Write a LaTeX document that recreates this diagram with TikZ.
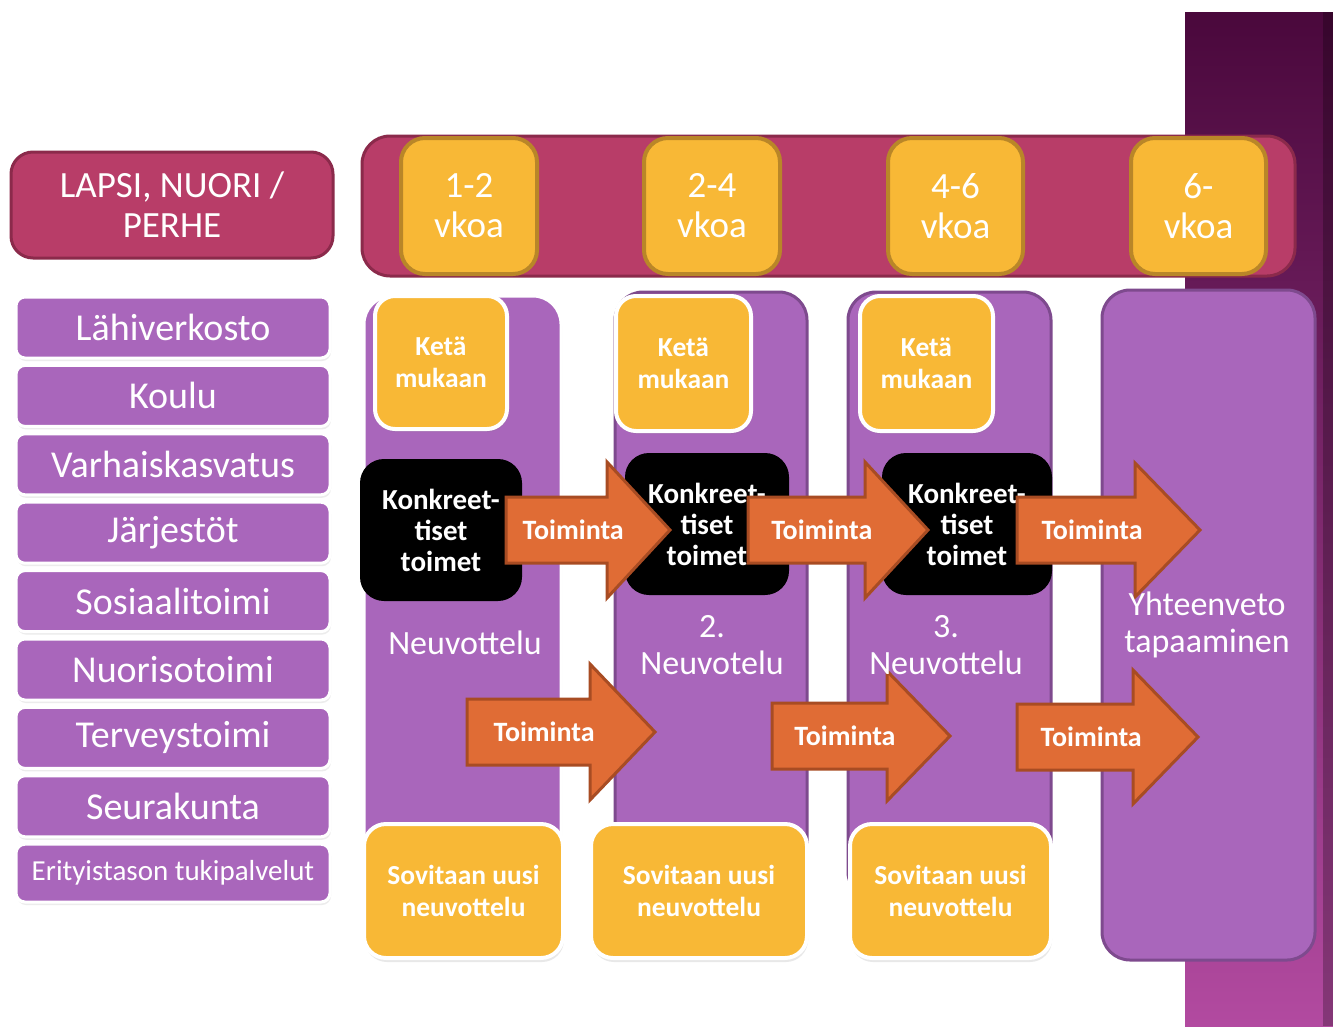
\documentclass[tikz,border=0pt]{standalone}
\usepackage{fontspec}
\setmainfont{Carlito}
\usetikzlibrary{shadows}
\definecolor{crim}{HTML}{B83D68}
\definecolor{crimd}{HTML}{8B2A4B}
\definecolor{yel}{HTML}{F8B836}
\definecolor{yeld}{HTML}{B98628}
\definecolor{purp}{HTML}{A966BB}
\definecolor{purpd}{HTML}{7E4A8E}
\definecolor{orng}{HTML}{E06C35}
\definecolor{orngd}{HTML}{A84C23}
\definecolor{stript}{HTML}{4A083C}
\definecolor{stripm}{HTML}{6A1D5E}
\definecolor{stripb}{HTML}{B24AA0}
\tikzset{
  base/.style={inner sep=0pt, outer sep=0pt, align=center, text=white},
  crimbox/.style={base, fill=crim, draw=crimd, line width=3pt, rounded corners=22pt, font=\fontsize{37}{40}\selectfont},
  barbox/.style={base, fill=crim, draw=crimd, line width=3pt, rounded corners=28pt},
  weekbox/.style={base, fill=yel, draw=yeld, line width=4pt, rounded corners=24pt, font=\fontsize{37}{40}\selectfont},
  listbox/.style={base, fill=purp, draw=white, line width=3pt, rounded corners=9pt,
    drop shadow={opacity=0.15, shadow xshift=1pt, shadow yshift=-3pt}, font=\fontsize{38}{40}\selectfont},
  colwhite/.style={base, fill=purp, draw=white, line width=3pt, rounded corners=28pt,
    drop shadow={opacity=0.10, shadow xshift=1pt, shadow yshift=-2pt}},
  coldark/.style={base, fill=purp, draw=purpd, line width=3pt, rounded corners=28pt},
  ketabox/.style={base, fill=yel, draw=white, line width=4pt, rounded corners=20pt,
    drop shadow={opacity=0.15, shadow xshift=1pt, shadow yshift=-3pt}, font=\fontsize{27.5}{32}\selectfont\bfseries},
  blackbox/.style={base, fill=black, rounded corners=24pt, font=\fontsize{29}{31}\selectfont\bfseries},
  sovbox/.style={base, fill=yel, draw=white, line width=4pt, rounded corners=22pt,
    drop shadow={opacity=0.18, shadow xshift=1pt, shadow yshift=-4pt}, font=\fontsize{27.5}{32}\selectfont\bfseries},
  collabel/.style={base, font=\fontsize{34}{37}\selectfont},
  arrowbody/.style={fill=orng, draw=orngd, line width=3pt, line join=miter},
  arrowtext/.style={base, font=\fontsize{28}{30}\selectfont\bfseries},
}
\newcommand{\bx}[7]{\node[#2, minimum width={#5-#3}, minimum height={#6-#4}] (#1) at ({(#3+#5)/2},{(#4+#6)/2}) {#7};}
\newcommand{\orarrow}[7]{%
  \draw[arrowbody] (#2,{#5-#6}) -- (#3,{#5-#6}) -- (#3,{#5-#7}) -- (#4,#5) -- (#3,{#5+#7}) -- (#3,{#5+#6}) -- (#2,{#5+#6}) -- cycle;
  \node[arrowtext] (#1) at ({#2+0.41*(#4-#2)},#5) {Toiminta};}
\begin{document}
\begin{tikzpicture}[x=1pt,y=-1pt]
\fill[white] (0,0) rectangle (1333,1026);
\useasboundingbox (0,0) rectangle (1333,1026);
% right strip
\shade[top color=stript, middle color=stripm, bottom color=stripb] (1185,12) rectangle (1333,1026);
\fill[black, opacity=0.25] (1323,12) rectangle (1333,1026);
% header
\bx{bar}{barbox}{362}{136}{1295}{276}{}
\bx{w1}{weekbox}{401}{138}{537}{274}{1-2\\vkoa}
\bx{w2}{weekbox}{644}{138}{780}{274}{2-4\\vkoa}
\bx{w3}{weekbox}{888}{138}{1023}{274}{4-6\\vkoa}
\bx{w4}{weekbox}{1131}{138}{1266}{274}{6-\\vkoa}
\bx{lapsi}{crimbox}{11}{152}{333}{258}{LAPSI, NUORI /\\PERHE}
% list
\foreach \t [count=\i] in {Lähiverkosto,Koulu,Varhaiskasvatus,Järjestöt,Sosiaalitoimi,Nuorisotoimi,Terveystoimi,Seurakunta}{
  \pgfmathsetmacro\yt{297+68.4*(\i-1)}
  \bx{l\i}{listbox}{16}{\yt}{330}{\yt+61}{\t}
}
\bx{l9}{listbox, font=\fontsize{29}{30}\selectfont}{16}{844.2}{330}{902}{Erityistason tukipalvelut}
% columns
\bx{c1}{colwhite}{364}{296}{561}{950}{}
\bx{c2}{coldark}{615}{292}{807}{900}{}
\bx{c3}{coldark}{848}{292}{1051}{900}{}
\bx{c4}{coldark}{1102}{290}{1315}{960}{}
% keta
\bx{k1}{ketabox}{375}{296}{507}{429}{Ketä\\mukaan}
\bx{k2}{ketabox}{616}{296}{751}{431}{Ketä\\mukaan}
\bx{k3}{ketabox}{860}{296}{993}{431}{Ketä\\mukaan}
% black
\bx{b1}{blackbox}{360}{459}{522}{601}{Konkreet-\\tiset\\toimet}
\bx{b2}{blackbox}{625}{453}{789}{595}{Konkreet-\\tiset\\toimet}
\bx{b3}{blackbox}{882}{453}{1052}{595}{Konkreet-\\tiset\\toimet}
% arrows
\orarrow{a1}{506}{607}{670}{530}{33}{68}
\orarrow{a2}{748}{865}{928}{530}{33}{68}
\orarrow{a3}{1017}{1135}{1200}{530}{33}{67}
\orarrow{a4}{467}{590}{655}{732}{33}{68}
\orarrow{a5}{772}{887}{950}{736}{33}{65}
\orarrow{a6}{1017}{1133}{1198}{737}{33}{67}
% column labels
\node[collabel] (n1) at (465,643) {Neuvottelu};
\node[collabel] (n2) at (712,645) {2.\\Neuvotelu};
\node[collabel] (n3) at (946,645) {3.\\Neuvottelu};
\node[collabel] (n4) at (1207,625) {Yhteenveto\\tapaaminen};
% bottom
\bx{s1}{sovbox}{364}{824}{563}{958}{Sovitaan uusi\\neuvottelu}
\bx{s2}{sovbox}{591}{824}{807}{958}{Sovitaan uusi\\neuvottelu}
\bx{s3}{sovbox}{850}{824}{1051}{958}{Sovitaan uusi\\neuvottelu}
\end{tikzpicture}
\end{document}
